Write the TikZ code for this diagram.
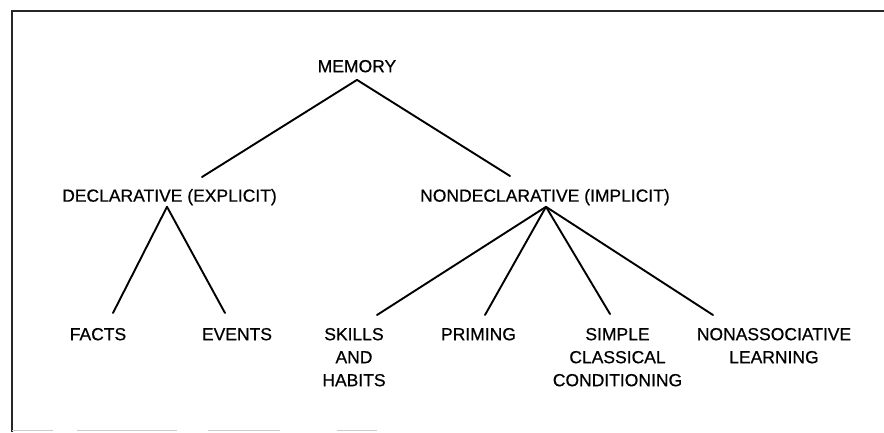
\documentclass[tikz,border=0pt]{standalone}
\usepackage{fontspec}
\setmainfont{Liberation Sans}[FakeBold=0.5]
\newfontfamily\termfont{Liberation Sans}[FakeBold=0.6]
\begin{document}
\begin{tikzpicture}[x=1pt,y=-1pt,
  term/.style={anchor=north, inner sep=0pt, outer sep=0pt, align=center,
               font=\termfont\fontsize{17.5}{23}\selectfont},
  branch/.style={line width=1.9pt, line cap=round},
  frame/.style={line width=2.4pt, black!85},
  faint/.style={line width=1.2pt, black!20}]
\useasboundingbox (0,0) rectangle (884,432);

% frame
\draw[frame] (12,432) -- (12,11) -- (884,11);
\draw[faint] (12,430.5) -- (53,430.5) (77,430.5) -- (177,430.5)
             (208,430.5) -- (280,430.5) (337,430.5) -- (377,430.5);

% labels
\node[term] (mem)    at (357,60)    {MEMORY};
\node[term] (decl)   at (169.5,189) {DECLARATIVE (EXPLICIT)};
\node[term] (nondecl) at (545,189)  {NONDECLARATIVE (IMPLICIT)};
\node[term] (facts)  at (98,328)    {FACTS};
\node[term] (events) at (237,328)   {EVENTS};
\node[term] (skills) at (354,328)   {SKILLS\\AND\\HABITS};
\node[term] (priming) at (478.5,328) {PRIMING};
\node[term] (simple) at (617.5,328) {SIMPLE\\CLASSICAL\\CONDITIONING};
\node[term] (nonassoc) at (774,328) {NONASSOCIATIVE\\LEARNING};

% branches
\draw[branch] ([yshift=-7.5pt]mem.south) -- ([xshift=32.5pt,yshift=12pt]decl.north);
\draw[branch] ([yshift=-7.5pt]mem.south) -- ([xshift=-35pt,yshift=13pt]nondecl.north);

\draw[branch] ([xshift=-2.5pt,yshift=-1.5pt]decl.south) -- ([xshift=15pt,yshift=15pt]facts.north);
\draw[branch] ([xshift=-2.5pt,yshift=-1.5pt]decl.south) -- ([xshift=-12pt,yshift=15pt]events.north);

\draw[branch] ([xshift=1pt,yshift=-1.5pt]nondecl.south) -- ([xshift=23pt,yshift=13pt]skills.north);
\draw[branch] ([xshift=1pt,yshift=-1.5pt]nondecl.south) -- ([xshift=6.5pt,yshift=13pt]priming.north);
\draw[branch] ([xshift=1pt,yshift=-1.5pt]nondecl.south) -- ([xshift=-7.5pt,yshift=14pt]simple.north);
\draw[branch] ([xshift=1pt,yshift=-1.5pt]nondecl.south) -- ([xshift=-61pt,yshift=13pt]nonassoc.north);
\end{tikzpicture}
\end{document}
